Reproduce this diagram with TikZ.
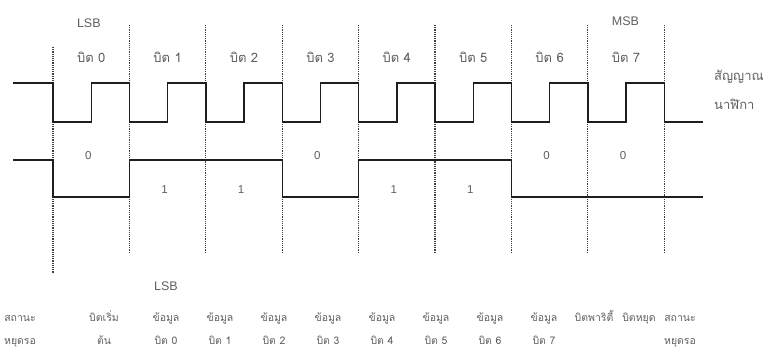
\documentclass[tikz,border=0pt]{standalone}
\usepackage{fontspec}
\setmainfont{Liberation Sans}
\newfontfamily\thaifont[Script=Thai]{Loma}
\usetikzlibrary{positioning}
\definecolor{tinta}{RGB}{30,30,30}
\definecolor{texto}{RGB}{95,95,95}

\begin{document}
\begin{tikzpicture}[x=1pt, y=-1pt,
    signal/.style={line width=1.4pt, tinta, line join=miter},
    bitline/.style={densely dotted, line width=1.2pt, tinta!85},
    bitlab/.style={font=\thaifont\fontsize{13}{15}\selectfont, text=texto, inner sep=1pt},
    latin/.style={font=\fontsize{12.5}{14}\selectfont, text=texto, inner sep=1pt},
    value/.style={font=\fontsize{11.5}{13}\selectfont, text=texto, inner sep=1pt},
    state/.style={font=\thaifont\fontsize{10.5}{23}\selectfont, text=texto, align=center, anchor=base, inner sep=1pt}
  ]
\useasboundingbox (0,0) rectangle (780,351);

\draw[bitline] (53,47) -- (53,273);
\foreach \k in {1,...,8}
  \draw[bitline] ({53+76.4*\k},25) -- ({53+76.4*\k},252);

\draw[signal] (13,83) \foreach \k in {0,...,7}{
    -- ({53+76.4*\k},83) -- ({53+76.4*\k},122) -- ({91.2+76.4*\k},122) -- ({91.2+76.4*\k},83)}
  -- (664.2,83) -- (664.2,122) -- (703,122);

\draw[signal] (13,160) -- (53,160) -- (53,197) -- (129.4,197) -- (129.4,160)
  -- (282.2,160) -- (282.2,197) -- (358.6,197) -- (358.6,160)
  -- (511.4,160) -- (511.4,197) -- (703,197);

\foreach \k in {0,...,7}
  \node[bitlab] (bit\k) at ({91.2+76.4*\k},57) {บิต \k};
\node[latin, anchor=west] (lsb) at (bit0.west |- 0,23) {LSB};
\node[latin, anchor=west] (msb) at (bit7.west |- 0,21) {MSB};

\foreach \v [count=\k from 0] in {0,1,1,0,1,1,0,0}{
  \ifnum\v=0
    \node[value] (val\k) at ({88.2+76.4*\k},156) {0};
  \else
    \node[value] (val\k) at ({88.2+76.4*\k},190) {1};
  \fi
}

\node[bitlab, anchor=west] (clk1) at (713,77) {สัญญาณ};
\node[bitlab, anchor=west] (clk2) at (713,104) {นาฬิกา};

\node[state] (idle1) at (20,344) {สถานะ\\หยุดรอ};
\node[state] (start) at (104,344) {บิตเริ่ม\\ต้น};
\foreach \k in {0,...,7}
  \node[state] (data\k) at ({166+54*\k},344) {ข้อมูล\\บิต \k};
\node[latin] (lsbdata) at (data0 |- 0,286) {LSB};
\node[state] (parity) at (594,321) {บิตพาริตี้};
\node[state] (stop) at (639,321) {บิตหยุด};
\node[state] (idle2) at (680,344) {สถานะ\\หยุดรอ};
\end{tikzpicture}
\end{document}
